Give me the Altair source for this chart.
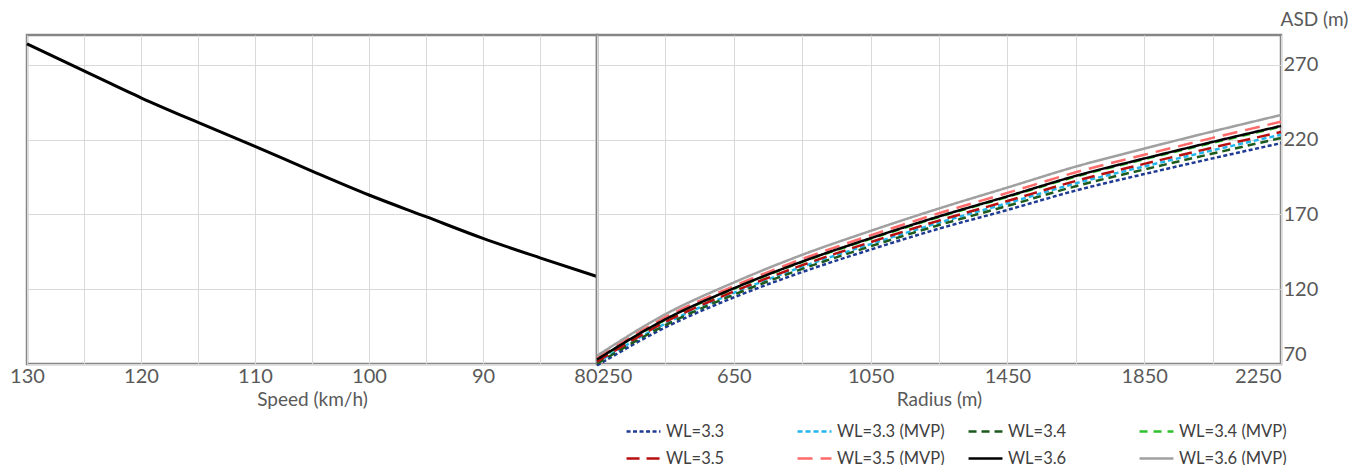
import altair as alt
import pandas as pd

# ---- Left panel: ASD vs speed ----
speeds = [130, 125, 120, 115, 110, 105, 100, 95, 90, 85, 80]
asd_speed = [284, 266, 248, 231.5, 215.5, 199, 183, 168.5, 154, 141, 128.5]

# ---- Right panel: ASD vs radius ----
radii = [250, 450, 650, 850, 1050, 1250, 1450, 1650, 1850, 2050, 2250]
series_names = ["WL=3.3", "WL=3.3 (MVP)", "WL=3.4", "WL=3.4 (MVP)",
                "WL=3.5", "WL=3.5 (MVP)", "WL=3.6", "WL=3.6 (MVP)"]
wl33 = [69.0, 94.5, 114.5, 131.5, 146.5, 160.5, 173.0, 186.0, 197.0, 207.5, 217.7]
wl33_mvp = [70.9, 97.0, 117.5, 135.0, 150.2, 164.5, 177.5, 190.8, 202.1, 212.9, 223.3]
wl34 = [70.2, 96.0, 116.3, 133.6, 148.7, 162.9, 175.7, 188.9, 200.1, 210.7, 221.1]
wl34_mvp = [72.8, 99.6, 120.3, 138.2, 153.7, 168.3, 181.7, 195.3, 206.9, 217.9, 228.6]
wl35 = [71.6, 98.1, 118.5, 136.1, 151.5, 165.9, 179.0, 192.4, 203.8, 214.7, 225.2]
wl35_mvp = [73.9, 101.3, 122.1, 140.2, 156.0, 170.8, 184.4, 198.2, 209.9, 221.2, 232.0]
wl36 = [73.0, 99.9, 120.6, 138.5, 154.1, 168.7, 182.1, 195.8, 207.4, 218.5, 229.2]
wl36_mvp = [75.5, 103.3, 124.5, 143.0, 159.0, 174.0, 188.0, 202.0, 214.0, 225.5, 236.5]
series_values = [wl33, wl33_mvp, wl34, wl34_mvp, wl35, wl35_mvp, wl36, wl36_mvp]

colors = ["#1f3a93", "#22b5ee", "#1d5a1d", "#2ec12e",
          "#b80f0f", "#ff6b6b", "#000000", "#a0a0a0"]
dashes = [[4, 2.5], [5, 3], [8, 5], [8, 6], [13, 7], [15, 8], [1, 0], [1, 0]]
widths = [2.5, 2.5, 2.5, 2.5, 2.5, 2.5, 2.5, 2]

# legend reading order (2 rows x 4 columns, filled column by column)
legend_order = [0, 4, 1, 5, 2, 6, 3, 7]
dom = [series_names[i] for i in legend_order]
col_range = [colors[i] for i in legend_order]
dash_range = [dashes[i] for i in legend_order]
width_range = [widths[i] for i in legend_order]

y_ticks = [70, 120, 170, 220, 270]

df_left = pd.DataFrame({"speed": speeds, "asd": asd_speed})
rows = []
for k, (name, vals) in enumerate(zip(series_names, series_values)):
    for r, v in zip(radii, vals):
        rows.append({"radius": r, "asd": v, "series": name, "order": k})
df_right = pd.DataFrame(rows)

FONT = "Lato"
TXT = "#595959"
GRID = "#d9d9d9"

y_scale = alt.Scale(domain=[70, 290], nice=False, zero=False)

left = alt.Chart(df_left).mark_line(color="black", strokeWidth=3,
                                    interpolate="monotone").encode(
    x=alt.X("speed:Q",
            scale=alt.Scale(domain=[130, 80], nice=False, zero=False),
            axis=alt.Axis(values=list(range(130, 79, -5)),
                          labelExpr="datum.value % 10 == 0 ? datum.label : ''",
                          labelAlign=alt.expr("datum.value == 80 ? 'right' : 'center'"),
                          title="Speed (km/h)", ticks=False, domain=False,
                          grid=True)),
    y=alt.Y("asd:Q", scale=y_scale,
            axis=alt.Axis(values=y_ticks, labels=False, ticks=False,
                          domain=False, title=None, grid=True)),
).properties(width=570, height=329)

right = alt.Chart(df_right).mark_line(interpolate="monotone").encode(
    x=alt.X("radius:Q",
            scale=alt.Scale(domain=[250, 2250], nice=False, zero=False),
            axis=alt.Axis(values=list(range(250, 2251, 200)),
                          labelExpr="(datum.value - 250) % 400 == 0 ? datum.label : ''",
                          labelFlush=True, title="Radius (m)", ticks=False,
                          domain=False, grid=True, format="d")),
    y=alt.Y("asd:Q", scale=y_scale,
            axis=alt.Axis(orient="right", values=y_ticks, ticks=False,
                          domain=False, grid=True, labelFlush=True,
                          title="ASD (m)", titleAngle=0, titleX=33, titleY=-16,
                          titleAlign="center", titleBaseline="middle")),
    color=alt.Color("series:N",
                    scale=alt.Scale(domain=dom, range=col_range),
                    legend=alt.Legend(title=None, orient="none", columns=4,
                                      legendX=598, legendY=378,
                                      symbolType="M-1,0H1", symbolSize=1150,
                                      symbolStrokeWidth=2.5, gridAlign="all",
                                      columnPadding=18, rowPadding=-15,
                                      labelFontSize=16.5, labelColor="#404040",
                                      labelFont=FONT, labelOffset=4)),
    strokeDash=alt.StrokeDash("series:N",
                              scale=alt.Scale(domain=dom, range=dash_range),
                              legend=None),
    strokeWidth=alt.StrokeWidth("series:N",
                                scale=alt.Scale(domain=dom, range=width_range),
                                legend=None),
    order=alt.Order("order:Q"),
).properties(width=684, height=329)

chart = alt.hconcat(left, right, spacing=0, bounds="flush").resolve_scale(
    x="independent"
).properties(
    padding={"left": 0, "top": 0, "right": 5, "bottom": 0}
).configure_view(
    stroke="#868686", strokeWidth=2.5
).configure_axis(
    labelFont=FONT, titleFont=FONT, labelColor=TXT, titleColor=TXT,
    labelFontSize=20, titleFontSize=19, titleFontWeight="normal",
    gridColor=GRID, gridWidth=1, labelPadding=2, titlePadding=4
).configure_legend(
    padding=0
)

chart.save("out.html", embed_options={"renderer": "svg", "actions": False})
